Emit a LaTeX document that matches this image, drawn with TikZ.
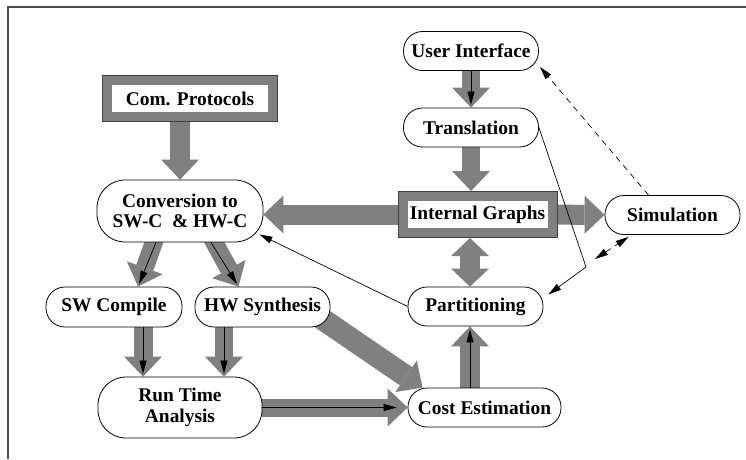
\documentclass[tikz,border=0pt]{standalone}
\usepackage{fontspec}
\setmainfont{Liberation Serif}
\usetikzlibrary{arrows.meta,calc,backgrounds}
\definecolor{arrowgray}{gray}{0.5}
\tikzset {
  >={Triangle[length=13pt,width=7pt]},
  every node/.style={font=\fontsize{19.4}{20.5}\selectfont\bfseries},
  capsule/.style={draw, fill=white, line width=0.8pt, rounded corners=19pt,
    minimum width=135pt, minimum height=39pt, inner sep=0pt, align=center},
  framed/.style={draw=arrowgray, fill=white, line width=9pt, outer sep=5.5pt,
    preaction={draw=black!75, line width=11pt}, minimum height=36pt, inner sep=0pt},
  fat/.style={draw=arrowgray, line width=20pt,
    -{Triangle[length=20pt,width=38pt,line width=0pt]}},
  fatboth/.style={draw=arrowgray, line width=20pt,
    {Triangle[length=18pt,width=38pt,line width=0pt]}-{Triangle[length=18pt,width=38pt,line width=0pt]}},
  pointer/.style={->, line width=0.7pt, shorten >=3pt},
}

\begin{document}
\begin{tikzpicture}[x=1pt,y=-1pt]
  \useasboundingbox (0,0) rectangle (746,459);
  \draw[black!70, line width=1.3pt] (746,7) -- (8,7) -- (8,459);
  \node[framed, minimum width=165pt] (proto) at (190,98.5) {Com. Protocols};
  \node[capsule] (ui) at (471,51) {User Interface};
  \node[capsule] (trans) at (471,127.5) {Translation};
  \node[framed, minimum width=149pt] (graphs) at (477.5,214.5) {Internal Graphs};
  \node[capsule, minimum width=166pt, minimum height=62pt, rounded corners=28pt]
    (conv) at (180,211) {Conversion to\\SW-C~~\& HW-C};
  \node[capsule] (sim) at (672.5,215) {Simulation};
  \node[capsule, minimum width=136pt, minimum height=40pt] (swc) at (114,307) {SW Compile};
  \node[capsule, minimum height=40pt] (hws) at (262.5,307) {HW Synthesis};
  \node[capsule] (part) at (475.5,306.5) {Partitioning};
  \node[capsule, minimum width=164pt, minimum height=61pt, rounded corners=28pt]
    (rta) at (180,407.5) {Run Time\\Analysis};
  \node[capsule, minimum width=153pt] (cost) at (484.5,407.5) {Cost Estimation};
  \coordinate (axis) at (470,0);
  \coordinate (swx) at (143,0);
  \coordinate (hwx) at (224,0);
  \coordinate (bend) at (586,267);
  \begin{scope}[on background layer]
    \draw[fat] (proto.south -| conv.north) -- (conv.north);
    \draw[fat, line width=18pt] (ui) -- (trans);
    \draw[fat, line width=18pt] (trans.south) -- (trans.south |- graphs.north);
    \draw[fat] (graphs.west) -- (graphs.west -| conv.east);
    \draw[fat] (graphs) -- (sim);
    \draw[fatboth] (graphs.south -| axis) -- (part.north -| axis);
    \draw[fat] (cost.north -| axis) -- (part.south -| axis);
    \draw[fat, line width=18pt] ($(conv.south)+(-24,-6)$) -- ($(swc.north)+(24,0)$);
    \draw[fat, line width=18pt] ($(conv.south)+(31,-6)$) -- ($(hws.north)+(-24,0)$);
    \draw[fat, line width=19pt] (swc.south -| swx) -- (rta.north -| swx);
    \draw[fat, line width=18pt] (hws.south -| hwx) -- (rta.north -| hwx);
    \draw[fat, line width=18pt] (rta) -- (cost);
    \draw[fat, line width=22pt] ($(hws.east)+(-14,8)$) -- ($(cost.north west)+(15,0)$);
  \end{scope}
  \draw[pointer] (ui) -- (trans);
  \draw[pointer] ($(conv.south)+(-24,0)$) -- ($(swc.north)+(24,0)$);
  \draw[pointer] ($(conv.south)+(31,0)$) -- ($(hws.north)+(-24,0)$);
  \draw[pointer] (swc.south -| swx) -- (rta.north -| swx);
  \draw[pointer] (hws.south -| hwx) -- (rta.north -| hwx);
  \draw[pointer, shorten >=11pt] (rta) -- (cost);
  \draw[pointer] (cost.north -| axis) -- (part.south -| axis);
  \draw[->, line width=0.7pt] (part.west) -- ($(conv.south east)+(-4,-8)$);
  \draw[->, line width=0.7pt] (trans.east) -- (bend) -- ($(part.east)+(5,-12)$);
  \draw[<->, line width=0.7pt, dash pattern=on 6pt off 5pt]
    ($(bend)+(9,-8)$) -- ($(sim.south west)+(24,2)$);
  \draw[->, line width=0.7pt, dash pattern=on 6pt off 5pt]
    ($(sim.north)+(-24,0)$) -- ($(ui.south east)+(1,-4)$);
\end{tikzpicture}
\end{document}
